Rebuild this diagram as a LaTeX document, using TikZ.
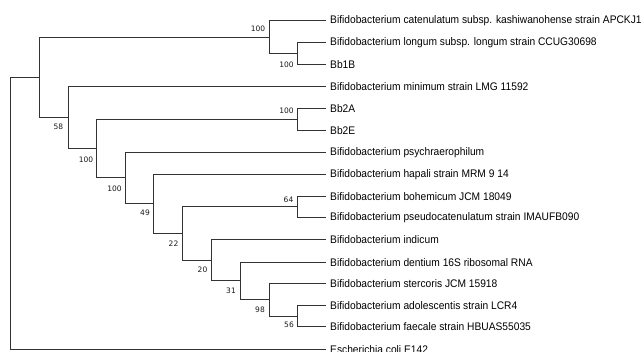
\documentclass[tikz,border=0pt]{standalone}
\usepackage{fontspec}
\setmainfont[FakeStretch=0.93]{Liberation Sans}
\newfontfamily\bootfont{DejaVu Sans}
\begin{document}
\begin{tikzpicture}[x=1pt,y=-1pt,
  branch/.style={draw=black!80,line width=1pt},
  leaf/.style={anchor=west,inner sep=0pt,font=\fontsize{11}{11}\selectfont,text=black},
  boot/.style={inner sep=0pt,font=\bootfont\fontsize{7.5}{8}\selectfont,text=black!90}]
\useasboundingbox (0,0) rectangle (644,351);
% leaf coordinates
\foreach \n/\yy in {l1/20.5,l2/42.5,l3/64.5,l4/86.5,l5/108.5,l6/130.5,l7/152.5,l8/174.5,l9/196.5,l10/217.5,l11/239.5,l12/262.5,l13/283.5,l14/305.5,l15/326.5,l16/349.5}{
  \coordinate (\n) at (325.5,\yy);
}
\node[leaf] (t1) at (330,20.5) {Bifidobacterium catenulatum subsp. kashiwanohense strain APCKJ1};
\node[leaf] (t2) at (330,42.5) {Bifidobacterium longum subsp. longum strain CCUG30698};
\node[leaf] (t3) at (330,64.5) {Bb1B};
\node[leaf] (t4) at (330,86.5) {Bifidobacterium minimum strain LMG 11592};
\node[leaf] (t5) at (330,108.5) {Bb2A};
\node[leaf] (t6) at (330,130.5) {Bb2E};
\node[leaf] (t7) at (330,152.5) {Bifidobacterium psychraerophilum};
\node[leaf] (t8) at (330,174.5) {Bifidobacterium hapali strain MRM 9 14};
\node[leaf] (t9) at (330,196.5) {Bifidobacterium bohemicum JCM 18049};
\node[leaf] (t10) at (330,217.5) {Bifidobacterium pseudocatenulatum strain IMAUFB090};
\node[leaf] (t11) at (330,239.5) {Bifidobacterium indicum};
\node[leaf] (t12) at (330,262.5) {Bifidobacterium dentium 16S ribosomal RNA};
\node[leaf] (t13) at (330,283.5) {Bifidobacterium stercoris JCM 15918};
\node[leaf] (t14) at (330,305.5) {Bifidobacterium adolescentis strain LCR4};
\node[leaf] (t15) at (330,326.5) {Bifidobacterium faecale strain HBUAS55035};
\node[leaf] (t16) at (330,349.5) {Escherichia coli E142};
% internal nodes
\coordinate (nA) at (297.5,53.5);
\coordinate (nB) at (269.5,37.5);
\coordinate (nC) at (297.5,119.5);
\coordinate (n56) at (297.5,316.5);
\coordinate (n98) at (269.5,299.5);
\coordinate (n31) at (240.5,280.5);
\coordinate (n20) at (211.5,260.5);
\coordinate (n64) at (297.5,206.5);
\coordinate (n22) at (182.5,233.5);
\coordinate (n49) at (153.5,203.5);
\coordinate (n100c) at (125.5,177.5);
\coordinate (n100b) at (96.5,148.5);
\coordinate (n58) at (68.5,117.5);
\coordinate (nTop) at (39.5,77.5);
\coordinate (root) at (10.5,213.5);
% branches
\draw[branch] (l2) -| (nA) |- (l3);
\draw[branch] (l1) -| (nB) |- (nA);
\draw[branch] (l5) -| (nC) |- (l6);
\draw[branch] (l14) -| (n56) |- (l15);
\draw[branch] (l13) -| (n98) |- (n56);
\draw[branch] (l12) -| (n31) |- (n98);
\draw[branch] (l11) -| (n20) |- (n31);
\draw[branch] (l9) -| (n64) |- (l10);
\draw[branch] (n64) -| (n22) |- (n20);
\draw[branch] (l8) -| (n49) |- (n22);
\draw[branch] (l7) -| (n100c) |- (n49);
\draw[branch] (nC) -| (n100b) |- (n100c);
\draw[branch] (l4) -| (n58) |- (n100b);
\draw[branch] (nB) -| (nTop) |- (n58);
\draw[branch] (nTop) -| (root) |- (l16);
% bootstrap labels
\node[boot] (b1) at (258,29) {100};
\node[boot] (b2) at (286.5,64.5) {100};
\node[boot] (b3) at (58.5,127) {58};
\node[boot] (b4) at (286.5,111) {100};
\node[boot] (b5) at (86,159.5) {100};
\node[boot] (b6) at (114.5,188.5) {100};
\node[boot] (b7) at (145,213) {49};
\node[boot] (b8) at (288.5,199.5) {64};
\node[boot] (b9) at (173.5,243.5) {22};
\node[boot] (b10) at (202.5,270) {20};
\node[boot] (b11) at (231,290.5) {31};
\node[boot] (b12) at (260,310) {98};
\node[boot] (b13) at (289,325) {56};
\end{tikzpicture}
\end{document}
